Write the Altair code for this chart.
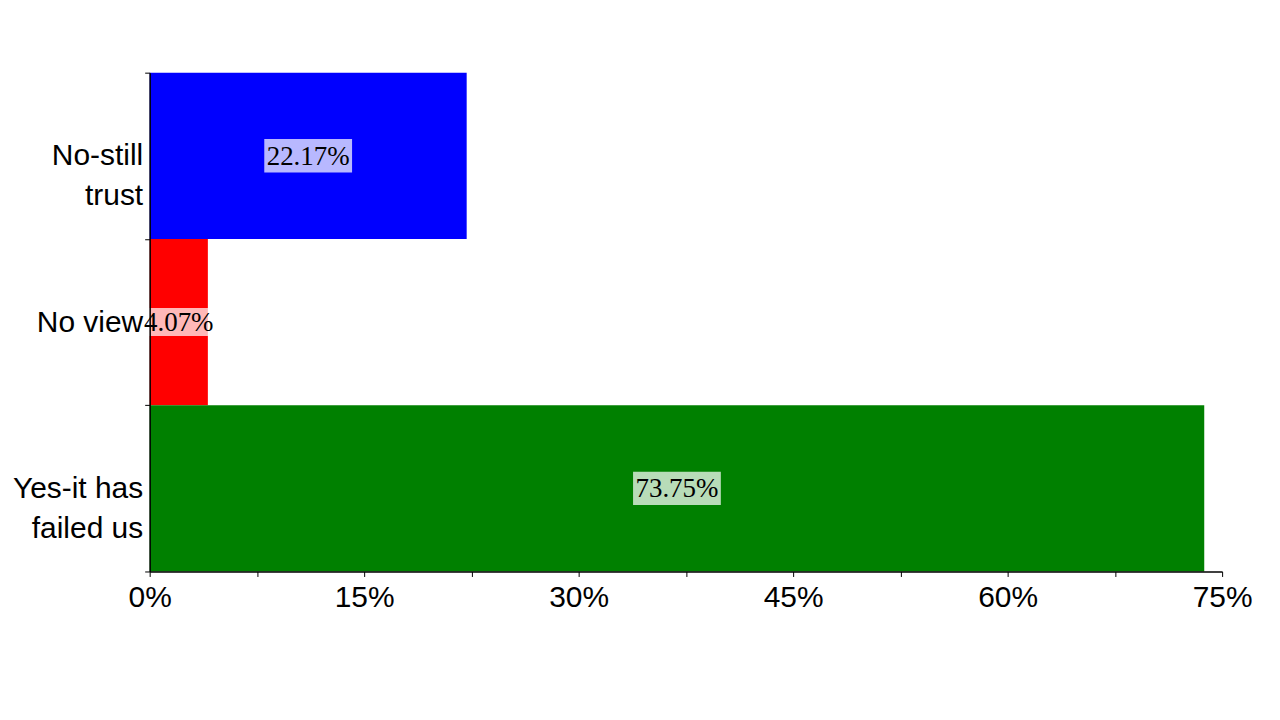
import altair as alt
import pandas as pd

categories = ["No-still trust", "No view", "Yes-it has failed us"]
axis_labels = ["No-still|trust", "No view", "Yes-it has|failed us"]
values = [22.17, 4.07, 73.75]
colors = ["#0000FF", "#FF0000", "#008000"]
tick_values = [0, 7.5, 15, 22.5, 30, 37.5, 45, 52.5, 60, 67.5, 75]

df = pd.DataFrame({
    "cat": categories,
    "lab": axis_labels,
    "value": values,
    "text": [f"{v:.2f}%" for v in values],
})

y_enc = alt.Y(
    "lab:N",
    sort=axis_labels,
    scale=alt.Scale(paddingInner=0, paddingOuter=0),
    axis=alt.Axis(
        title=None,
        labelExpr="split(datum.label, '|')",
        labelFontSize=30,
        labelFont="Liberation Sans",
        labelColor="#000000",
        labelLineHeight=40,
        labelPadding=2,
        tickBand="extent",
        tickSize=5,
        tickColor="#000000",
        domainColor="#000000",
        domainWidth=1.5,
        grid=False,
        zindex=1,
    ),
)

x_enc = alt.X(
    "value:Q",
    scale=alt.Scale(domain=[0, 75], nice=False, zero=True),
    axis=alt.Axis(
        title=None,
        values=tick_values,
        labelExpr="datum.value % 15 == 0 ? datum.value + '%' : ''",
        labelFontSize=30,
        labelFont="Liberation Sans",
        labelColor="#000000",
        labelFlush=False,
        labelOverlap=False,
        tickSize=5,
        tickColor="#000000",
        domainColor="#000000",
        domainWidth=1.5,
        grid=False,
        labelPadding=6,
        zindex=1,
    ),
)

bars = alt.Chart(df).mark_bar(stroke=None).encode(
    x=x_enc,
    y=y_enc,
    color=alt.Color("cat:N", scale=alt.Scale(domain=categories, range=colors), legend=None),
)

boxes = alt.Chart(df).transform_calculate(
    mid="datum.value / 2",
    bsize="pow(length(datum.text) * 14 + 4, 2)",
).mark_point(
    shape="M-1,-0.38L1,-0.38L1,0.38L-1,0.38Z",
    filled=True,
    color="#FFFFFF",
    opacity=0.72,
    strokeWidth=0,
).encode(
    x=alt.X("mid:Q"),
    y=alt.Y("lab:N", sort=axis_labels),
    size=alt.Size("bsize:Q", scale=None, legend=None),
)

texts = alt.Chart(df).transform_calculate(
    mid="datum.value / 2"
).mark_text(
    font="Liberation Serif",
    fontSize=27,
    color="#000000",
    align="center",
    baseline="middle",
    dy=1,
).encode(
    x=alt.X("mid:Q"),
    y=alt.Y("lab:N", sort=axis_labels),
    text="text:N",
)

chart = alt.layer(bars, boxes, texts).properties(
    width=1075,
    height=500,
    autosize=alt.AutoSizeParams(type="none"),
    padding={"left": 142, "top": 64, "right": 50, "bottom": 120},
    background="#FFFFFF",
).configure_view(stroke=None)

chart.save("out.html", embed_options={"renderer": "svg", "actions": False})
